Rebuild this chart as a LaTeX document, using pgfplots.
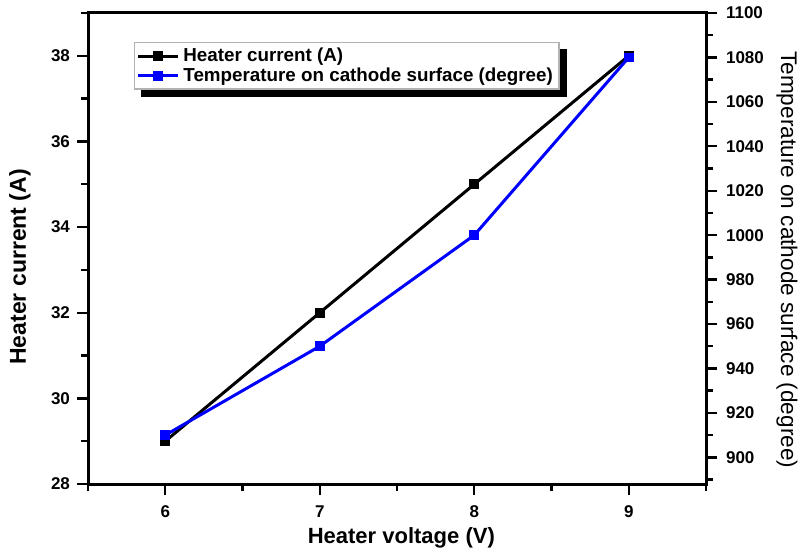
\documentclass[border=0pt]{standalone}
\usepackage{fontspec}
\setmainfont{Liberation Sans}
\usepackage{pgfplots}
\pgfplotsset{compat=1.18}
\pgfdeclarelayer{background}
\pgfsetlayers{background,main}
\begin{document}
\begin{tikzpicture}
\path[use as bounding box] (0,0) rectangle (401pt,278pt);
\pgfplotsset{
  every axis/.append style={
    scale only axis, width=309pt, height=235.5pt,
    at={(44pt,36pt)}, anchor=south west,
    xmin=5.5, xmax=9.5,
    axis line style={line width=1.5pt},
    major tick length=5.5pt, minor tick length=3.5pt,
    every tick/.append style={line width=1.2pt, black},
    every minor tick/.append style={line width=1.2pt, black},
    /pgf/number format/assume math mode=true,
    /pgf/number format/1000 sep={},
    ticklabel style={font=\bfseries\fontsize{8.5}{10}\selectfont},
  },
  myline/.style={line width=1.5pt, mark=square*, mark size=1.7pt, mark options={solid}},
}
% left axis: heater current
\begin{axis}[
  ymin=28, ymax=39,
  xtick={6,7,8,9}, minor xtick={5.5,6.5,7.5,8.5,9.5},
  ytick={28,30,32,34,36,38}, minor ytick={29,31,33,35,37,39},
  xtick pos=bottom, ytick pos=left, tick align=outside,
  xlabel={\bfseries Heater voltage (V)},
  ylabel={\bfseries Heater current (A)},
  xlabel style={font=\fontsize{11}{13}\selectfont, at={(axis description cs:0.507,-0.115)}, anchor=center},
  ylabel style={font=\fontsize{11.5}{13}\selectfont, at={(axis description cs:-0.110,0.461)}, anchor=center},
  xticklabel style={yshift=-2pt},
]
\addplot[myline, black] coordinates {(6,29) (7,32) (8,35) (9,38)};
\end{axis}
% right axis: temperature
\begin{axis}[
  ymin=888, ymax=1100,
  axis y line*=right, axis x line=none,
  ytick={900,920,...,1100}, minor ytick={890,910,...,1090},
  tick align=outside,
  ylabel={Temperature on cathode surface (degree)},
  ylabel style={font=\fontsize{11.3}{13}\selectfont, rotate=180, at={(axis description cs:1.131,0.476)}, anchor=center},
  yticklabel style={xshift=1pt},
  legend style={name=leg, at={(axis description cs:0.0744,0.938)}, anchor=north west,
    draw=gray!60, line width=0.6pt, fill=white,
    font=\bfseries\fontsize{9.4}{10}\selectfont,
    inner xsep=1pt, inner ysep=0.5pt, row sep=-2.5pt,
    cells={anchor=west}},
  legend image code/.code={\draw[#1, mark=none] (0cm,0cm) -- (0.7cm,0cm); \draw[#1, draw=none] plot coordinates {(0.35cm,0cm)};},
]
\addlegendimage{myline, black}
\addlegendentry{Heater current (A)}
\addplot[myline, blue] coordinates {(6,910) (7,950) (8,1000) (9,1080)};
\addlegendentry{Temperature on cathode surface (degree)}
\end{axis}
\begin{pgfonlayer}{background}
\fill[black] ([shift={(3.5pt,-3.5pt)}]leg.south west) rectangle ([shift={(3.5pt,-3.5pt)}]leg.north east);
\end{pgfonlayer}
\end{tikzpicture}
\end{document}
